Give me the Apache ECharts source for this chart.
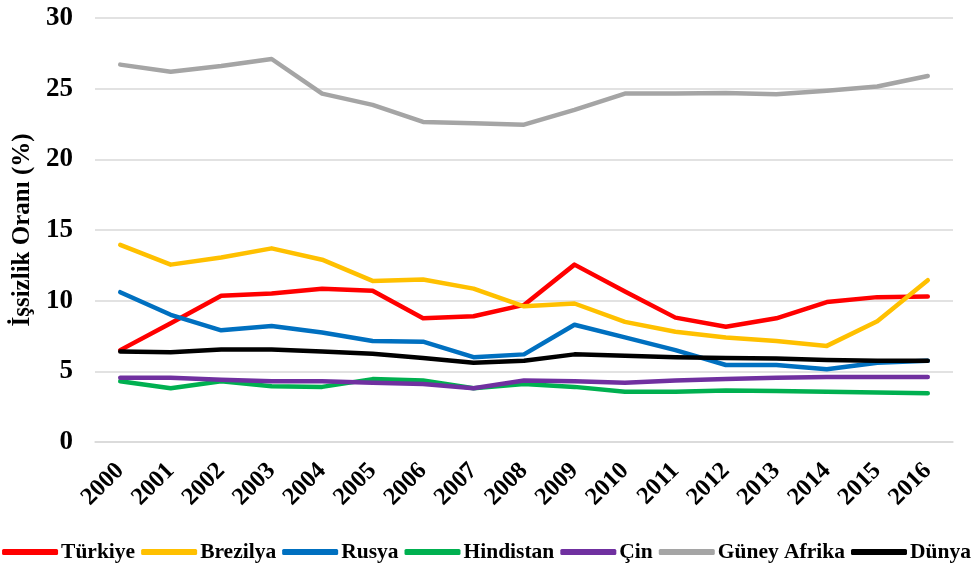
<!DOCTYPE html>
<html>
<head>
<meta charset="utf-8">
<script src="https://cdn.jsdelivr.net/npm/echarts@6/dist/echarts.min.js"></script>
<style>html,body{margin:0;padding:0;background:#fff}#c{width:973px;height:569px}</style>
</head>
<body>
<div id="c"></div>
<script>
const years = ['2000','2001','2002','2003','2004','2005','2006','2007','2008','2009','2010','2011','2012','2013','2014','2015','2016'];
const turkiye = [6.5, 8.4, 10.35, 10.5, 10.85, 10.7, 8.75, 8.9, 9.7, 12.55, 10.65, 8.8, 8.15, 8.75, 9.9, 10.25, 10.3];
const brezilya = [13.95, 12.55, 13.05, 13.7, 12.9, 11.4, 11.5, 10.85, 9.6, 9.8, 8.5, 7.8, 7.4, 7.15, 6.8, 8.55, 11.45];
const rusya = [10.6, 9.0, 7.9, 8.2, 7.75, 7.15, 7.1, 6.0, 6.2, 8.3, 7.4, 6.5, 5.45, 5.45, 5.15, 5.6, 5.75];
const hindistan = [4.3, 3.8, 4.3, 3.95, 3.9, 4.45, 4.35, 3.8, 4.1, 3.9, 3.55, 3.55, 3.65, 3.6, 3.55, 3.5, 3.45];
const cin = [4.55, 4.55, 4.4, 4.3, 4.3, 4.2, 4.1, 3.8, 4.35, 4.3, 4.2, 4.35, 4.45, 4.55, 4.6, 4.6, 4.6];
const guneyAfrika = [26.7, 26.2, 26.6, 27.1, 24.65, 23.85, 22.65, 22.55, 22.45, 23.5, 24.65, 24.65, 24.7, 24.6, 24.85, 25.15, 25.9];
const dunya = [6.4, 6.35, 6.55, 6.55, 6.4, 6.25, 5.95, 5.6, 5.75, 6.2, 6.1, 6.0, 5.95, 5.9, 5.8, 5.75, 5.75];
const yTicks = [0, 5, 10, 15, 20, 25, 30];

const seriesDefs = [
  ['Türkiye', turkiye, '#FF0000'],
  ['Brezilya', brezilya, '#FFC000'],
  ['Rusya', rusya, '#0070C0'],
  ['Hindistan', hindistan, '#00B050'],
  ['Çin', cin, '#7030A0'],
  ['Güney Afrika', guneyAfrika, '#A5A5A5'],
  ['Dünya', dunya, '#000000']
];

const font = '"Liberation Serif", "Times New Roman", serif';
const chart = echarts.init(document.getElementById('c'));
chart.setOption({
  animation: false,
  grid: { left: 95, right: 20, top: 18, bottom: 127, containLabel: false },
  legend: {
    top: 541,
    left: 'center',
    width: 973,
    padding: 0,
    itemWidth: 56,
    itemHeight: 6,
    itemGap: 6,
    icon: 'roundRect',
    textStyle: { fontFamily: font, fontWeight: 'bold', fontSize: 21.5, color: '#000', padding: [0, 0, 0, -2] },
    data: seriesDefs.map(d => d[0])
  },
  xAxis: {
    type: 'category',
    data: years,
    boundaryGap: true,
    axisLine: { lineStyle: { color: '#D9D9D9', width: 1.5 } },
    axisTick: { alignWithLabel: true, length: 5, lineStyle: { color: '#D9D9D9', width: 1.5 } },
    axisLabel: { rotate: 45, fontFamily: font, fontWeight: 'bold', fontSize: 24.5, color: '#000', margin: 25, interval: 0 }
  },
  yAxis: {
    type: 'value',
    min: 0, max: 30, interval: 5,
    name: 'İşsizlik Oranı (%)',
    nameLocation: 'middle',
    nameGap: 58,
    nameTextStyle: { fontFamily: font, fontWeight: 'bold', fontSize: 25, color: '#000' },
    axisLine: { show: false },
    axisTick: { show: false },
    splitLine: { lineStyle: { color: '#D9D9D9', width: 1.5 } },
    axisLabel: { fontFamily: font, fontWeight: 'bold', fontSize: 27, color: '#000', margin: 22,
      formatter: v => yTicks.includes(v) ? String(v) : '' }
  },
  series: seriesDefs.map(d => ({
    name: d[0], type: 'line', data: d[1], symbol: 'none',
    lineStyle: { color: d[2], width: 4.5, cap: 'round', join: 'round' },
    itemStyle: { color: d[2] }
  }))
});
</script>
</body>
</html>
